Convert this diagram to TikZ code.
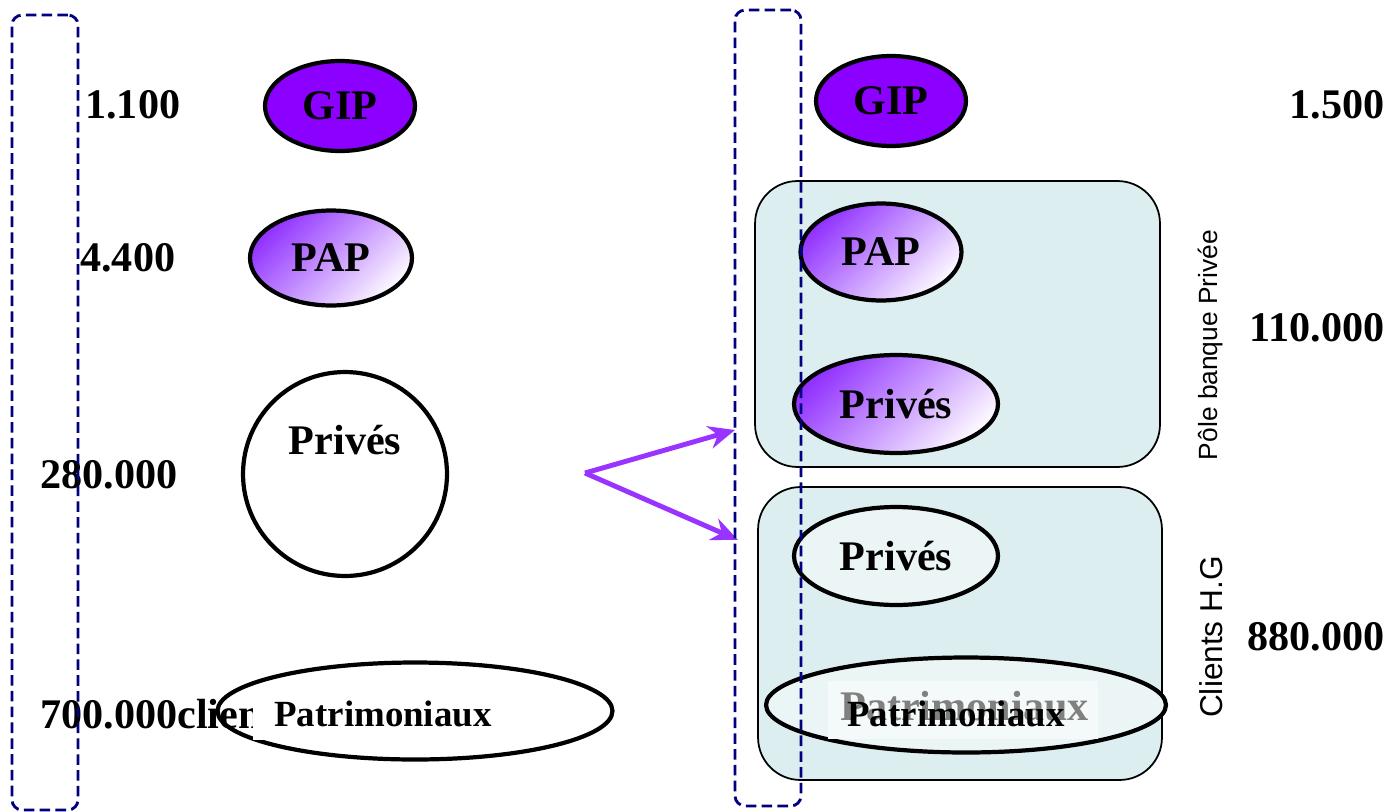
\documentclass[tikz,border=0pt]{standalone}
\usepackage{fontspec}
\setmainfont{Liberation Serif}
\newfontfamily\sansarial{Liberation Sans}
\usepackage{tikz}
\usetikzlibrary{shapes.geometric,arrows.meta}
\definecolor{gipviolet}{RGB}{140,0,255}
\definecolor{lilac}{RGB}{145,50,255}
\definecolor{lilacpale}{RGB}{252,248,255}
\definecolor{arrowviolet}{RGB}{153,51,255}
\definecolor{poolcyan}{RGB}{221,238,240}
\definecolor{poolpale}{RGB}{236,245,246}
\definecolor{poolwhite}{RGB}{244,250,250}
\definecolor{dashnavy}{RGB}{0,0,128}
\tikzstyle{big}=[font=\fontsize{24}{28}\selectfont\bfseries]
\tikzstyle{mid}=[font=\fontsize{21}{25}\selectfont\bfseries]
\tikzstyle{oval}=[ellipse, draw=black, line width=2.4pt, inner sep=0pt, big]
\tikzstyle{gip} = [oval, fill=gipviolet, minimum width=3cm, minimum height=1.8cm]
\tikzstyle{grad} = [oval, top color=lilac, bottom color=lilacpale, shading angle=45]
\tikzstyle{pale} = [oval, fill=poolpale]
\tikzstyle{pool} = [draw=black, line width=1pt, fill=poolcyan, rounded corners=.85cm, inner sep=0pt]
\tikzstyle{band} = [draw=dashnavy, line width=1.6pt, dash pattern=on 6pt off 3pt, rounded corners=.2cm, inner sep=0pt]
\tikzstyle{amount} = [big, inner sep=0pt]
\tikzstyle{side} = [font=\sansarial\fontsize{15}{18}\selectfont, rotate=90, inner sep=0pt]
\tikzstyle{forkarrow} = [draw=arrowviolet, line width=2.8pt, -{Stealth[length=15pt,width=13pt]}]

\begin{document}
\begin{tikzpicture}[x=0.02cm, y=-0.02cm]
	\useasboundingbox (0,0) rectangle (1391,811);

	% left column
	\node[gip] (gip_l) at (340,106) {GIP};
	\node[grad, minimum width=3.24cm, minimum height=1.9cm] (pap_l) at (331,258) {PAP};
	\node[circle, draw=black, line width=2.4pt, fill=white, minimum size=4.08cm] (prives_l) at (345,474) {};
	\node[big] (prives_lt) at (345,440) {Privés};
	\node[oval, fill=white, minimum width=7.9cm, minimum height=1.94cm] (patri_l) at (415,711) {};

	\node[amount, anchor=west] (n_gip_l) at (85,105) {1.100};
	\node[amount, anchor=west] (n_pap_l) at (80,258) {4.400};
	\node[amount, anchor=west] (n_prives_l) at (40,475) {280.000};
	\node[amount, anchor=west] (n_patri_l) at (40,714) {700.000clients};
	\node[mid, fill=white, inner xsep=.42cm, inner ysep=.26cm] (patri_lt) at (383,714) {Patrimoniaux};

	% arrows
	\coordinate (fork) at (585,473);
	\coordinate (t_1) at (735,430);
	\coordinate (t_2) at (738,540);
	\draw[forkarrow] (fork) -- (t_1);
	\draw[forkarrow] (fork) -- (t_2);

	% right column
	\node[gip] (gip_r) at (891,101) {GIP};
	\node[pool, minimum width=8.1cm, minimum height=5.72cm] (pole) at (957.5,324) {};
	\node[pool, minimum width=8.08cm, minimum height=5.86cm] (hg) at (960,633.5) {};

	\node[grad, minimum width=3.22cm, minimum height=1.94cm] (pap_r) at (881,252) {PAP};
	\node[grad, minimum width=4.08cm, minimum height=1.96cm] (prives_r1) at (896,404) {Privés};
	\node[pale, minimum width=4.08cm, minimum height=1.96cm] (prives_r2) at (896,556) {Privés};
	\node[pale, minimum width=8cm, minimum height=1.9cm] (patri_r) at (966,705) {};
	\node[fill=poolwhite, minimum width=5.4cm, minimum height=1.16cm, inner sep=0pt] (patri_box) at (963,710) {};
	\node[big, text=gray, anchor=base west, inner sep=0pt] (patri_gr) at (840,720) {Patrimoniaux};
	\node[mid, anchor=base west, inner sep=0pt] (patri_rt) at (847,726) {Patrimoniaux};

	\node[amount, anchor=east] (n_gip_r) at (1385,105) {1.500};
	\node[amount, anchor=east] (n_pole) at (1385,328) {110.000};
	\node[amount, anchor=east] (n_hg) at (1385,637) {880.000};
	\node[side] (pole_lbl) at (1211,345) {Pôle banque Privée};
	\node[side, font=\sansarial\fontsize{18}{21}\selectfont] (hg_lbl) at (1211,637) {Clients H.G};

	% dashed columns
	\node[band, minimum width=1.32cm, minimum height=15.9cm] (col_l) at (45,412.5) {};
	\node[band, minimum width=1.32cm, minimum height=15.92cm] (col_r) at (768,408) {};
\end{tikzpicture}
\end{document}
